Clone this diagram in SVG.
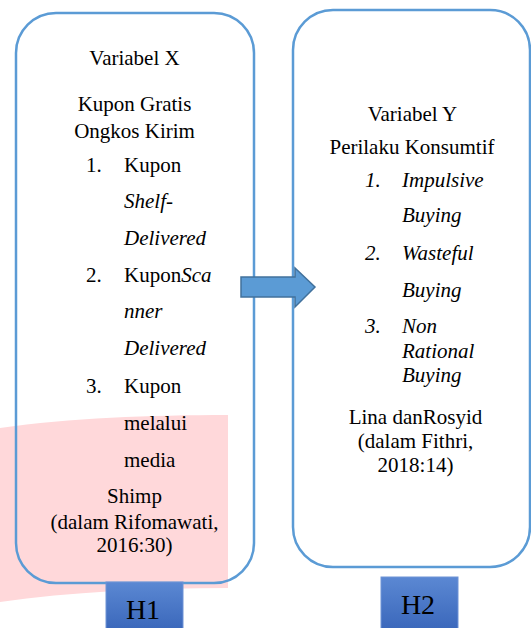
<svg xmlns="http://www.w3.org/2000/svg" width="531" height="628" viewBox="0 0 531 628">
<defs>
<linearGradient id="hg" x1="0" y1="0" x2="0" y2="1">
<stop offset="0" stop-color="#5B88D3"/>
<stop offset="1" stop-color="#3966BA"/>
</linearGradient>
</defs>
<style>
.box{fill:none;stroke:#5B9BD5;stroke-width:2.5}
.t{font-size:21px;fill:#000}
.c{text-anchor:middle}
.i{font-style:italic}
.h{fill:url(#hg);stroke:#6E93D6;stroke-width:1}
.ht{font-size:28px;fill:#000;text-anchor:middle}
</style>
<rect width="531" height="628" fill="#fff"/>
<path d="M0,428 C70,418 150,415 228,415 L228,588 C150,588 70,592 0,602 Z" fill="#FFD8DA"/>
<g font-family="Liberation Serif, Times New Roman, DejaVu Serif, serif">
<g id="nodeX">
<rect class="box" x="16" y="13" width="238" height="570" rx="40" ry="40"/>
<text class="t c" x="134.5" y="65">Variabel X</text>
<text class="t c" x="134.5" y="111">Kupon Gratis</text>
<text class="t c" x="134.5" y="138">Ongkos Kirim</text>
<text class="t" x="86" y="172">1.</text>
<text class="t" x="124" y="172">Kupon</text>
<text class="t i" x="124" y="208">Shelf-</text>
<text class="t i" x="124" y="245">Delivered</text>
<text class="t" x="86" y="282">2.</text>
<text class="t" x="124" y="282">Kupon<tspan class="i">Sca</tspan></text>
<text class="t i" x="124" y="318">nner</text>
<text class="t i" x="124" y="355">Delivered</text>
<text class="t" x="86" y="393">3.</text>
<text class="t" x="124" y="393">Kupon</text>
<text class="t" x="124" y="430">melalui</text>
<text class="t" x="124" y="467">media</text>
<text class="t c" x="134.5" y="503">Shimp</text>
<text class="t c" x="134.5" y="529">(dalam Rifomawati,</text>
<text class="t c" x="134.5" y="552">2016:30)</text>
</g>
<g id="nodeY">
<rect class="box" x="293" y="10" width="237" height="557" rx="40" ry="40"/>
<text class="t c" x="412.5" y="121">Variabel Y</text>
<text class="t c" x="412" y="154">Perilaku Konsumtif</text>
<text class="t i" x="365" y="187">1.</text>
<text class="t i" x="402" y="187">Impulsive</text>
<text class="t i" x="402" y="222">Buying</text>
<text class="t i" x="365" y="260">2.</text>
<text class="t i" x="402" y="260">Wasteful</text>
<text class="t i" x="402" y="297">Buying</text>
<text class="t i" x="365" y="333">3.</text>
<text class="t i" x="402" y="333">Non</text>
<text class="t i" x="402" y="358">Rational</text>
<text class="t i" x="402" y="382">Buying</text>
<text class="t c" x="415.5" y="424">Lina danRosyid</text>
<text class="t c" x="415.5" y="448">(dalam Fithri,</text>
<text class="t c" x="415.5" y="472">2018:14)</text>
</g>
<g id="connectors">
<path d="M241,277 L295,277 L295,268 L315,287 L295,307 L295,297 L241,297 Z" fill="#5B9BD5" stroke="#41719C" stroke-width="1.5" stroke-linejoin="miter"/>
</g>
<g id="H1">
<rect class="h" x="106" y="582" width="77" height="50"/>
<text class="ht" x="143" y="619">H1</text>
</g>
<g id="H2">
<rect class="h" x="381" y="577" width="77" height="55"/>
<text class="ht" x="418" y="614">H2</text>
</g>
</g>
</svg>
